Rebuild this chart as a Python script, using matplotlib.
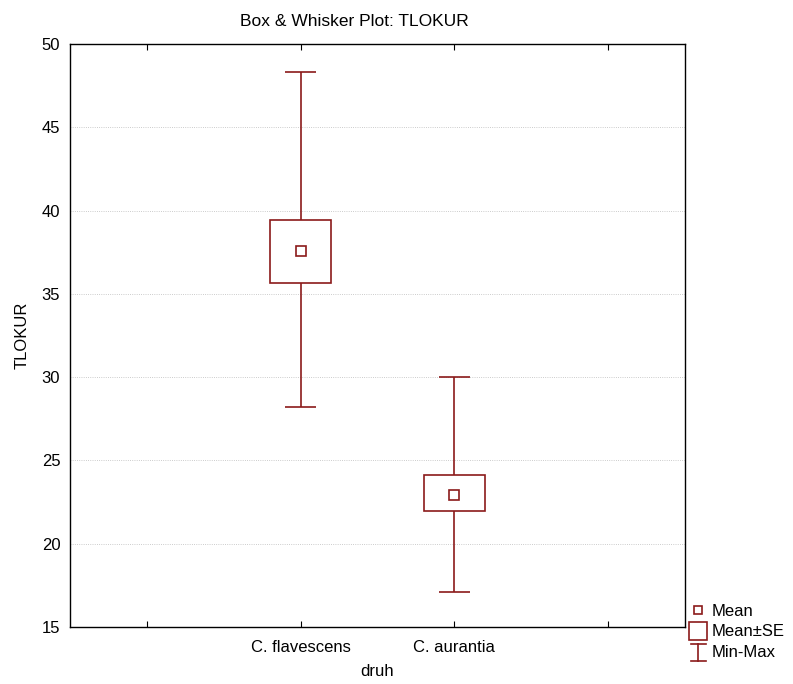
import matplotlib
matplotlib.use("Agg")
import matplotlib.pyplot as plt
from matplotlib.lines import Line2D
from matplotlib.patches import Rectangle
from matplotlib.legend_handler import HandlerBase

plt.rcParams['font.family'] = ['Liberation Sans', 'DejaVu Sans']

categories = ["C. flavescens", "C. aurantia"]
means = [37.55, 22.95]
se_low = [35.65, 21.95]
se_high = [39.45, 24.1]
mins = [28.2, 17.1]
maxs = [48.3, 30.0]

color = "#8b1a1a"
FS = 12

fig = plt.figure(figsize=(7.93, 6.84), dpi=100)
ax = fig.add_axes([70/793, 1-627/684, 615/793, 583/684])

positions = [1, 2]
box_w = 0.4
cap_w = 0.2
for x, m, lo, hi, mn, mx in zip(positions, means, se_low, se_high, mins, maxs):
    ax.vlines(x, mn, lo, color=color, lw=1.2, zorder=3)
    ax.vlines(x, hi, mx, color=color, lw=1.2, zorder=3)
    ax.hlines([mn, mx], x - cap_w/2, x + cap_w/2, color=color, lw=1.2, zorder=3)
    ax.add_patch(Rectangle((x - box_w/2, lo), box_w, hi - lo, facecolor='white',
                           edgecolor=color, lw=1.2, zorder=3))
    ax.plot([x], [m], marker='s', ms=7, mfc='white', mec=color, mew=1.2, zorder=4)

ax.set_xlim(-0.5, 3.5)
ax.set_ylim(15, 50)
ax.set_xticks([0, 1, 2, 3])
ax.set_xticklabels(["", categories[0], categories[1], ""])
ax.set_yticks([15, 20, 25, 30, 35, 40, 45, 50])
ax.tick_params(axis='both', direction='in', labelsize=FS, top=True, right=True, length=4)
ax.tick_params(axis='x', pad=9)
ax.tick_params(axis='y', length=0, pad=7)
ax.yaxis.grid(True, color='#bbbbbb', lw=0.6, ls=':')
ax.set_axisbelow(True)
for s in ax.spines.values():
    s.set_linewidth(1.0)

ax.set_xlabel("druh", fontsize=FS, labelpad=7)
ax.set_ylabel("TLOKUR", fontsize=FS, labelpad=9)
fig.text(354/793, 1-22/684, "Box & Whisker Plot: TLOKUR", ha='center', va='center', fontsize=12.5)


class HandlerMinMax(HandlerBase):
    def create_artists(self, legend, orig_handle, xdescent, ydescent, width, height, fontsize, trans):
        cx = width / 2 - xdescent
        w = 11
        top = height + 1
        bot = -3
        l1 = Line2D([cx, cx], [bot, top], color=color, lw=1.2, transform=trans)
        l2 = Line2D([cx - w/2, cx + w/2], [top, top], color=color, lw=1.2, transform=trans)
        l3 = Line2D([cx - w/2, cx + w/2], [bot, bot], color=color, lw=1.2, transform=trans)
        return [l1, l2, l3]


class MinMaxHandle:
    pass


h_mean = Line2D([], [], ls='none', marker='s', ms=6, mfc='white', mec=color, mew=1.2)
h_se = Line2D([], [], ls='none', marker='s', ms=12.5, mfc='white', mec=color, mew=1.2)
h_mm = MinMaxHandle()
fig.legend([h_mean, h_se, h_mm], ["Mean", "Mean±SE", "Min-Max"],
           handler_map={MinMaxHandle: HandlerMinMax()},
           loc='lower left', bbox_to_anchor=(690/793, 1-660/684),
           frameon=False, fontsize=FS, handlelength=1.0, handletextpad=0.3,
           labelspacing=0.34, borderpad=0.0, borderaxespad=0.0)

fig.savefig("out.png", dpi=100)
